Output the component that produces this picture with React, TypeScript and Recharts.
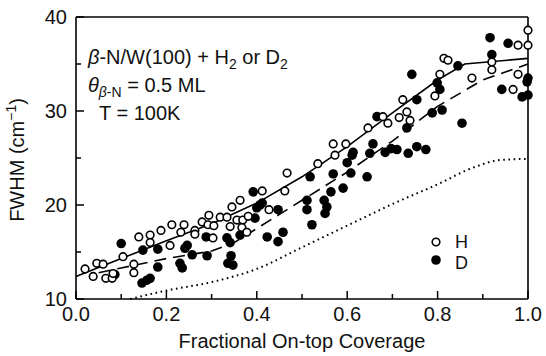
import { ComposedChart, Scatter, Line, XAxis, YAxis, ReferenceLine } from 'recharts'

// H2 (open circles)
const hCoverage = [
  0.02, 0.038, 0.046, 0.06, 0.066, 0.08, 0.082, 0.104, 0.128, 0.128, 0.139, 0.164, 0.164, 0.188,
  0.208, 0.212, 0.232, 0.239, 0.263, 0.263, 0.279, 0.294, 0.292, 0.305, 0.303, 0.319, 0.334, 0.345,
  0.363, 0.341, 0.356, 0.369, 0.381, 0.367, 0.378, 0.412, 0.427, 0.462, 0.467, 0.535, 0.569, 0.573,
  0.597, 0.646, 0.679, 0.69, 0.715, 0.723, 0.732, 0.739, 0.794, 0.805, 0.814, 0.823, 0.876, 0.92,
  0.92, 0.978, 1.0, 1.0, 0.978, 0.967,
]
const hFwhm = [
  13.2, 12.4, 13.8, 13.7, 12.2, 12.2, 12.7, 14.5, 13.7, 12.8, 16.6, 16.8, 16.0, 17.3,
  15.7, 17.9, 17.1, 17.9, 17.3, 16.9, 18.2, 18.9, 17.9, 17.8, 16.5, 18.7, 18.7, 19.8,
  20.5, 17.7, 18.4, 18.4, 18.8, 17.6, 17.1, 21.5, 19.5, 21.5, 23.4, 24.4, 26.5, 25.3,
  26.5, 28.2, 29.4, 28.7, 29.3, 31.2, 29.9, 29.0, 31.6, 33.9, 35.6, 35.4, 33.5, 35.2,
  34.4, 37.0, 37.0, 38.6, 33.9, 32.3,
]

// D2 (filled circles)
const dCoverage = [
  0.086, 0.1, 0.148, 0.146, 0.157, 0.164, 0.181, 0.181, 0.23, 0.235, 0.241, 0.246, 0.257, 0.288,
  0.29, 0.334, 0.341, 0.343, 0.336, 0.347, 0.363, 0.392, 0.396, 0.4, 0.407, 0.412, 0.423, 0.447,
  0.458, 0.447, 0.511, 0.511, 0.522, 0.518, 0.549, 0.555, 0.551, 0.564, 0.591, 0.569, 0.608, 0.644,
  0.6, 0.611, 0.613, 0.65, 0.657, 0.684, 0.697, 0.71, 0.735, 0.754, 0.774, 0.666, 0.732, 0.743,
  0.754, 0.788, 0.81, 0.799, 0.805, 0.845, 0.854, 0.916, 0.956, 0.92, 0.942, 0.987, 1.0, 1.0, 0.998,
]
const dFwhm = [
  12.6, 15.9, 15.2, 11.7, 12.0, 12.2, 13.4, 15.3, 13.8, 13.3, 15.4, 15.7, 14.7, 16.6,
  14.6, 16.5, 16.0, 14.6, 13.8, 13.6, 16.8, 21.4, 18.6, 19.7, 20.0, 20.2, 16.6, 16.1,
  17.1, 19.5, 20.5, 19.5, 17.9, 23.0, 20.5, 19.8, 19.1, 21.4, 21.8, 23.3, 23.4, 23.0,
  24.5, 25.3, 25.6, 25.5, 26.5, 25.6, 26.0, 25.9, 25.5, 26.2, 25.9, 29.4, 28.2, 33.9,
  31.2, 29.8, 30.1, 33.0, 32.3, 34.8, 28.7, 37.8, 37.2, 36.0, 32.3, 31.5, 31.7, 33.5, 33.1,
]

// fitted curves
const solidX = [0, 0.1, 0.2, 0.3, 0.4, 0.5, 0.6, 0.7, 0.8, 0.86, 1.0]
const solidY = [12.4, 14.3, 16.2, 18.0, 20.2, 23.0, 26.2, 29.8, 33.3, 35.0, 35.6]
const dashX = [0.05, 0.1, 0.2, 0.3, 0.35, 0.4, 0.45, 0.5, 0.55, 0.6, 0.7, 0.8, 0.9, 1.0]
const dashY = [12.8, 13.3, 14.3, 15.1, 16.0, 17.5, 19.0, 20.5, 22.0, 23.5, 26.8, 30.5, 33.3, 35.0]
const dotX = [0.12, 0.2, 0.3, 0.4, 0.5, 0.6, 0.7, 0.8, 0.88, 0.94, 1.0]
const dotY = [10.0, 10.9, 11.8, 13.2, 15.5, 17.8, 20.1, 22.2, 24.0, 24.8, 24.9]

const xTicks = [0, 0.1, 0.2, 0.3, 0.4, 0.5, 0.6, 0.7, 0.8, 0.9, 1.0]
const yTicks = [10, 15, 20, 25, 30, 35, 40]

const zip = (xs: number[], ys: number[]) => xs.map((x, i) => ({ x, y: ys[i] }))

const FONT = '"Liberation Sans", Arial, sans-serif'

function XTick(props: any) {
  const { x, y, payload } = props
  const v = payload.value as number
  const major = Math.round(v * 10) % 2 === 0
  return (
    <g>
      <line x1={x} x2={x} y1={y} y2={y - (major ? 8 : 5)} stroke="#000" strokeWidth={1.5} />
      {major && (
        <text x={x} y={y + 22} textAnchor="middle" fontSize={20} fontFamily={FONT} fill="#111">
          {v.toFixed(1)}
        </text>
      )}
    </g>
  )
}

function YTick(props: any) {
  const { x, y, payload } = props
  const v = payload.value as number
  const major = v % 10 === 0
  return (
    <g>
      <line x1={x} x2={x + (major ? 8 : 5)} y1={y} y2={y} stroke="#000" strokeWidth={1.5} />
      {major && (
        <text x={x - 9} y={y + 7} textAnchor="end" fontSize={20} fontFamily={FONT} fill="#111">
          {v}
        </text>
      )}
    </g>
  )
}

const openDot = (p: any) => (
  <circle cx={p.cx} cy={p.cy} r={3.8} fill="#fff" stroke="#000" strokeWidth={1.6} />
)
const fillDot = (p: any) => <circle cx={p.cx} cy={p.cy} r={4.8} fill="#000" />

export default function App() {
  return (
    <div style={{ position: 'absolute', left: 0, top: 0, background: '#fff' }}>
      <ComposedChart width={546} height={356} margin={{ top: 17, right: 18, left: 0, bottom: 0 }}>
        <XAxis
          dataKey="x"
          type="number"
          domain={[0, 1]}
          ticks={xTicks}
          interval={0}
          height={57}
          tickSize={0}
          tickMargin={0}
          tick={<XTick />}
          axisLine={{ stroke: '#000', strokeWidth: 1.6 }}
        />
        <YAxis
          type="number"
          domain={[10, 40]}
          ticks={yTicks}
          interval={0}
          width={76}
          tickSize={0}
          tickMargin={0}
          tick={<YTick />}
          axisLine={{ stroke: '#000', strokeWidth: 1.6 }}
        />
        <ReferenceLine x={1} stroke="#000" strokeWidth={1.6} />
        <ReferenceLine y={40} stroke="#000" strokeWidth={1.6} />
        <Line data={zip(dotX, dotY)} dataKey="y" type="monotone" stroke="#000" strokeWidth={2}
          strokeDasharray="1.6 3.6" dot={false} isAnimationActive={false} />
        <Line data={zip(dashX, dashY)} dataKey="y" type="linear" stroke="#000" strokeWidth={1.6}
          strokeDasharray="12 7" dot={false} isAnimationActive={false} />
        <Line data={zip(solidX, solidY)} dataKey="y" type="linear" stroke="#000" strokeWidth={1.6}
          dot={false} isAnimationActive={false} />
        <Scatter data={zip(dCoverage, dFwhm)} dataKey="y" shape={fillDot} isAnimationActive={false} />
        <Scatter data={zip(hCoverage, hFwhm)} dataKey="y" shape={openDot} isAnimationActive={false} />

        <text transform="translate(24,160) rotate(-90)" textAnchor="middle" fontSize={20} fontFamily={FONT} fill="#111">
          FWHM (cm<tspan dy={-8} fontSize={14}>−1</tspan><tspan dy={8} fontSize={20}>)</tspan>
        </text>
        <text x={302} y={348} textAnchor="middle" fontSize={20} fontFamily={FONT} fill="#111">
          Fractional On-top Coverage
        </text>

        <text x={88} y={64} fontSize={20} fontFamily={FONT} fill="#111">
          <tspan fontStyle="italic">β</tspan>-N/W(100) + H<tspan dy={5} fontSize={14}>2</tspan>
          <tspan dy={-5}> or D</tspan><tspan dy={5} fontSize={14}>2</tspan>
        </text>
        <text x={88} y={92} fontSize={20} fontFamily={FONT} fill="#111">
          <tspan fontStyle="italic">θ</tspan><tspan dy={5} fontSize={14} fontStyle="italic">β</tspan><tspan fontSize={14}>-N</tspan>
          <tspan dy={-5}> = 0.5 ML</tspan>
        </text>
        <text x={99} y={120} fontSize={20} fontFamily={FONT} fill="#111">
          T = 100K
        </text>

        <circle cx={436} cy={242} r={3.8} fill="#fff" stroke="#000" strokeWidth={1.6} />
        <text x={455} y={248} fontSize={18} fontFamily={FONT} fill="#111">H</text>
        <circle cx={436} cy={260} r={4.8} fill="#000" />
        <text x={455} y={269} fontSize={18} fontFamily={FONT} fill="#111">D</text>
      </ComposedChart>
    </div>
  )
}
